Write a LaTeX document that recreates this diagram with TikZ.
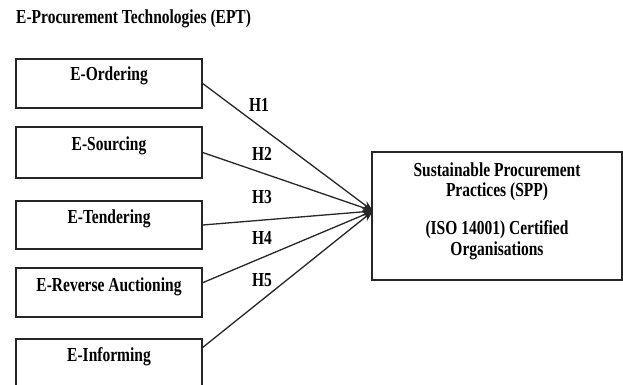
\documentclass[tikz,border=0pt]{standalone}
\usepackage{fontspec}
\usepackage{graphicx}
\setmainfont{Liberation Serif}
\usetikzlibrary{arrows.meta}
\newcommand{\tallt}[1]{\scalebox{1}[1.28]{#1}}
\begin{document}
\begin{tikzpicture}[x=1pt,y=-1pt,
  box/.style={draw=black!85,line width=1.4pt,inner sep=0pt},
  lbl/.style={font=\bfseries\fontsize{15.5}{17}\selectfont,inner sep=0pt},
  hlbl/.style={font=\bfseries\fontsize{15.5}{17}\selectfont,inner sep=0pt},
  conn/.style={draw=black!85,line width=1.3pt,-{Stealth[length=11pt,width=8pt]}}]
\useasboundingbox (0,0) rectangle (623,385);
\node[lbl,anchor=west] (title) at (16,19) {\tallt{E-Procurement Technologies (EPT)}};
% left boxes
\node[box,minimum width=186,minimum height=49] (b1) at (109,83.5) {};
\node[box,minimum width=186,minimum height=51] (b2) at (109,152.5) {};
\node[box,minimum width=186,minimum height=48] (b3) at (109,225) {};
\node[box,minimum width=186,minimum height=49] (b4) at (109,292.5) {};
\node[box,minimum width=186,minimum height=60] (b5) at (109,369) {};
\node[lbl] (t1) at (109,76) {\tallt{E-Ordering}};
\node[lbl] (t2) at (109,146) {\tallt{E-Sourcing}};
\node[lbl] (t3) at (109,219) {\tallt{E-Tendering}};
\node[lbl] (t4) at (109,287) {\tallt{E-Reverse Auctioning}};
\node[lbl] (t5) at (109,357) {\tallt{E-Informing}};
% right box
\node[box,minimum width=250,minimum height=128] (spp) at (497,216) {};
\node[lbl] (s1) at (497,170) {\tallt{Sustainable Procurement}};
\node[lbl] (s2) at (497,192) {\tallt{Practices (SPP)}};
\node[lbl] (s3) at (497,230) {\tallt{(ISO 14001) Certified}};
\node[lbl] (s4) at (497,251) {\tallt{Organisations}};
\coordinate (tip) at (373,211);
\coordinate (c4) at (202,283);
\coordinate (c5) at (202,348);
\draw[conn] (b1.east) -- (tip);
\draw[conn] (b2.east) -- (tip);
\draw[conn] (b3.east) -- (tip);
\draw[conn] (c4) -- (tip);
\draw[conn] (c5) -- (tip);
\node[hlbl] (h1) at (259,105) {\tallt{H1}};
\node[hlbl] (h2) at (262,154) {\tallt{H2}};
\node[hlbl] (h3) at (262,197) {\tallt{H3}};
\node[hlbl] (h4) at (262,238) {\tallt{H4}};
\node[hlbl] (h5) at (262,280) {\tallt{H5}};
\end{tikzpicture}
\end{document}
